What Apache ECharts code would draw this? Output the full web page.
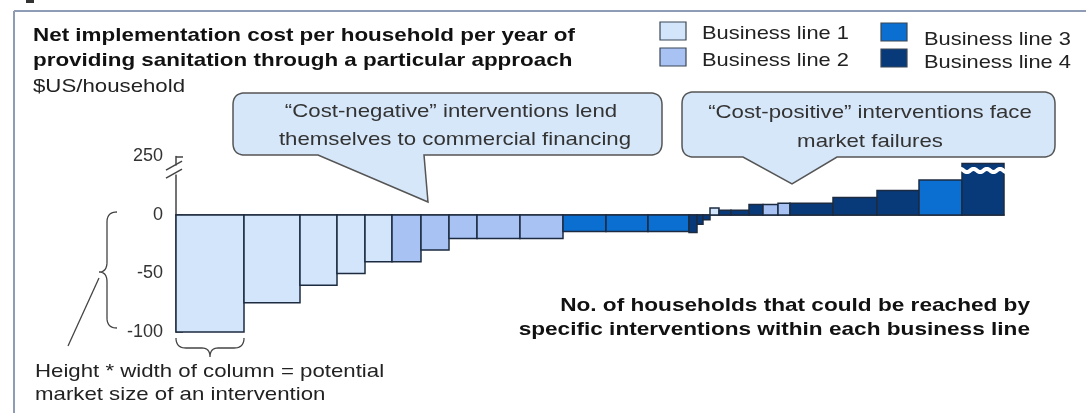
<!DOCTYPE html>
<html><head><meta charset="utf-8">
<script src="https://cdn.jsdelivr.net/npm/echarts@6/dist/echarts.min.js"></script>
<style>html,body{margin:0;padding:0;background:#fff}#c{width:1086px;height:413px}</style>
</head><body><div id="c"></div>
<script>
// Number of households reached by each intervention (relative widths)
const households = [68, 56, 37, 28, 27, 29, 28, 28, 43, 43, 43, 42, 41, 8, 6, 7, 9, 12, 18, 14, 15, 12, 43, 44, 42, 43, 42];
// Net implementation cost per household per year ($US/household); last bar is broken (shown height)
const costs = [-100, -75, -60, -50, -40, -40, -30, -20, -20, -20, -14, -14, -14, -15, -8, -4, 6, 4, 4, 9, 9, 10, 10, 15, 21, 30, 44];
// Business line index (0..3) of each intervention
const businessLine = [0, 0, 0, 0, 0, 1, 1, 1, 1, 1, 2, 2, 2, 3, 3, 3, 0, 3, 3, 3, 1, 1, 3, 3, 3, 2, 3];
const lineNames = ['Business line 1', 'Business line 2', 'Business line 3', 'Business line 4'];
const lineColors = ['#d3e5fa', '#a8c2f4', '#0b6fd1', '#083a7a'];
const yTickValues = [-100, -50, 0, 50];
const yTickLabels = ['-100', '-50', '0', '250'];

const starts = [];
let acc = 0;
households.forEach(w => { starts.push(acc); acc += w; });
const total = acc;
const data = households.map((w, i) => [starts[i], w, costs[i], businessLine[i]]);

const FONT = '"Liberation Sans", Arial, sans-serif';
const chart = echarts.init(document.getElementById('c'));
chart.setOption({
  animation: false,
  grid: { left: 176, right: 82, top: 156.5, bottom: 81 },
  xAxis: {
    type: 'value', min: 0, max: total,
    axisLine: { show: true, onZero: true, lineStyle: { color: '#222', width: 1.5 } },
    axisTick: { show: false }, axisLabel: { show: false }, splitLine: { show: false }
  },
  yAxis: {
    type: 'value', min: -100, max: 50, interval: 50,
    splitLine: { show: false },
    axisLine: { show: true, lineStyle: { color: '#444', width: 1.5 } },
    axisTick: { show: true, inside: true, length: 7, lineStyle: { color: '#444', width: 1.5 } },
    axisLabel: {
      formatter: v => { const k = yTickValues.indexOf(v); return k >= 0 ? yTickLabels[k] : ''; },
      fontSize: 18, color: '#333', margin: 13, fontFamily: FONT
    }
  },
  series: [{
    type: 'custom',
    data: data,
    encode: { x: 0, y: 2 },
    renderItem: function (params, api) {
      const s = api.value(0), w = api.value(1), v = api.value(2), bl = api.value(3);
      const p0 = api.coord([s, v]);
      const p1 = api.coord([s + w, 0]);
      const y = Math.min(p0[1], p1[1]);
      const h = Math.abs(p1[1] - p0[1]);
      return {
        type: 'rect',
        shape: { x: p0[0], y: y, width: p1[0] - p0[0], height: h },
        style: { fill: lineColors[bl], stroke: '#1c2b40', lineWidth: 1.5 }
      };
    }
  }]
});

// ---- helpers: turn simple M/L/Q path strings into point lists ----
function pathPoints(d) {
  const tok = d.trim().split(/[\s,]+|(?=[MLQZ])|(?<=[MLQZ])/).filter(s => s.length);
  const pts = [];
  let i = 0, cur = [0, 0];
  while (i < tok.length) {
    const c = tok[i++];
    if (c === 'M' || c === 'L') {
      cur = [+tok[i], +tok[i + 1]]; i += 2; pts.push(cur.slice());
    } else if (c === 'Q') {
      const cx = +tok[i], cy = +tok[i + 1], ex = +tok[i + 2], ey = +tok[i + 3]; i += 4;
      for (let t = 1; t <= 10; t++) {
        const u = t / 10;
        pts.push([(1 - u) * (1 - u) * cur[0] + 2 * (1 - u) * u * cx + u * u * ex,
                  (1 - u) * (1 - u) * cur[1] + 2 * (1 - u) * u * cy + u * u * ey]);
      }
      cur = [ex, ey];
    }
  }
  return pts;
}

// ---- decorations ----
const g = [];
function txt(x, y, text, opt) {
  opt = opt || {};
  g.push({
    type: 'text', x: x, y: y, scaleX: opt.sx || 1.17, z: 100,
    style: {
      text: text, fill: opt.color || '#222', fontSize: opt.size || 19,
      fontWeight: opt.bold ? 'bold' : 'normal', fontFamily: FONT,
      align: opt.align || 'left', verticalAlign: 'middle'
    }
  });
}
function shapePath(d, closed, style, z) {
  g.push({ type: closed ? 'polygon' : 'polyline', z: z || 40, shape: { points: pathPoints(d) }, style: style });
}
// frame
g.push({ type: 'line', shape: { x1: 14, y1: 11, x2: 1086, y2: 11 }, style: { stroke: '#8e9db5', lineWidth: 2 } });
g.push({ type: 'line', shape: { x1: 14, y1: 11, x2: 14, y2: 413 }, style: { stroke: '#8e9db5', lineWidth: 2 } });
g.push({ type: 'rect', shape: { x: 26, y: 0, width: 8, height: 3 }, style: { fill: '#333' } });

// title
txt(33, 36, 'Net implementation cost per household per year of', { bold: true, sx: 1.18, color: '#111' });
txt(33, 61, 'providing sanitation through a particular approach', { bold: true, sx: 1.18, color: '#111' });
txt(33, 87, '$US/household', { sx: 1.17 });

// legend
const legPos = [[660, 22, 702, 34], [660, 48, 702, 61], [881, 23, 924, 40], [881, 49, 924, 63]];
legPos.forEach((p, i) => {
  g.push({ type: 'rect', shape: { x: p[0], y: p[1], width: 26, height: 18 }, style: { fill: lineColors[i], stroke: '#3a4656', lineWidth: 1.2 } });
  txt(p[2], p[3], lineNames[i], { sx: 1.15 });
});

// callouts
shapePath('M245 93 L650 93 Q662 93 662 105 L662 143 Q662 155 650 155 L424 155 L428 202 L318 155 L245 155 Q233 155 233 143 L233 105 Q233 93 245 93', true,
  { fill: '#d6e7fa', stroke: '#555', lineWidth: 1.5 }, 50);
txt(451, 112, '“Cost-negative” interventions lend', { align: 'center', color: '#333' });
txt(455, 140, 'themselves to commercial financing', { align: 'center', color: '#333' });
shapePath('M694 92 L1043 92 Q1055 92 1055 104 L1055 145 Q1055 157 1043 157 L837 157 L792 184 L743 157 L694 157 Q682 157 682 145 L682 104 Q682 92 694 92', true,
  { fill: '#d6e7fa', stroke: '#555', lineWidth: 1.5 }, 50);
txt(870, 113, '“Cost-positive” interventions face', { align: 'center', color: '#333' });
txt(870, 142, 'market failures', { align: 'center', color: '#333' });

// bold annotation
txt(1030, 306, 'No. of households that could be reached by', { bold: true, align: 'right', color: '#111', sx: 1.19 });
txt(1030, 330, 'specific interventions within each business line', { bold: true, align: 'right', color: '#111', sx: 1.19 });

// left brace and pointer line
shapePath('M117 212 Q107 212 107 222 L107 262 Q107 272 99 272 Q107 272 107 282 L107 318 Q107 328 117 328', false,
  { fill: null, stroke: '#444', lineWidth: 1.3 });
g.push({ type: 'line', shape: { x1: 99, y1: 278, x2: 68, y2: 346 }, style: { stroke: '#444', lineWidth: 1.3 } });

// bottom brace under first column
const pA = chart.convertToPixel({ seriesIndex: 0 }, [starts[0], costs[0]]);
const pB = chart.convertToPixel({ seriesIndex: 0 }, [starts[0] + households[0], costs[0]]);
const bx0 = pA[0], bx1 = pB[0], by = pA[1] + 6, bm = (bx0 + bx1) / 2;
shapePath(`M${bx0} ${by} Q${bx0} ${by + 10} ${bx0 + 10} ${by + 10} L${bm - 8} ${by + 10} Q${bm} ${by + 10} ${bm} ${by + 19} Q${bm} ${by + 10} ${bm + 8} ${by + 10} L${bx1 - 10} ${by + 10} Q${bx1} ${by + 10} ${bx1} ${by}`, false,
  { fill: null, stroke: '#444', lineWidth: 1.3 });
txt(35, 372, 'Height * width of column = potential', {});
txt(35, 395, 'market size of an intervention', {});

// axis break
const ax = chart.convertToPixel({ seriesIndex: 0 }, [0, 38]);
g.push({ type: 'rect', z: 60, shape: { x: ax[0] - 4, y: ax[1] - 5, width: 8, height: 9 }, style: { fill: '#fff' } });
g.push({ type: 'line', z: 61, shape: { x1: ax[0] - 10, y1: ax[1] - 0.5, x2: ax[0] + 6, y2: ax[1] - 9.5 }, style: { stroke: '#444', lineWidth: 1.5 } });
g.push({ type: 'line', z: 61, shape: { x1: ax[0] - 10, y1: ax[1] + 7.5, x2: ax[0] + 6, y2: ax[1] - 1.5 }, style: { stroke: '#444', lineWidth: 1.5 } });

// break on last column
const last = costs.length - 1;
const lp0 = chart.convertToPixel({ seriesIndex: 0 }, [starts[last], costs[last]]);
const lp1 = chart.convertToPixel({ seriesIndex: 0 }, [starts[last] + households[last], costs[last]]);
const wy = lp0[1] + 7, wx0 = lp0[0] - 5, wx1 = lp1[0] + 6;
let wp = `M${wx0} ${wy}`;
const step = (wx1 - wx0) / 4;
for (let k = 0; k < 4; k++) {
  const xa = wx0 + step * k;
  wp += ` Q${xa + step / 4} ${wy - 3} ${xa + step / 2} ${wy} Q${xa + 3 * step / 4} ${wy + 3} ${xa + step} ${wy}`;
}
shapePath(wp, false, { fill: null, stroke: '#fff', lineWidth: 4 }, 70);

chart.setOption({ graphic: g });
</script>
</body></html>
